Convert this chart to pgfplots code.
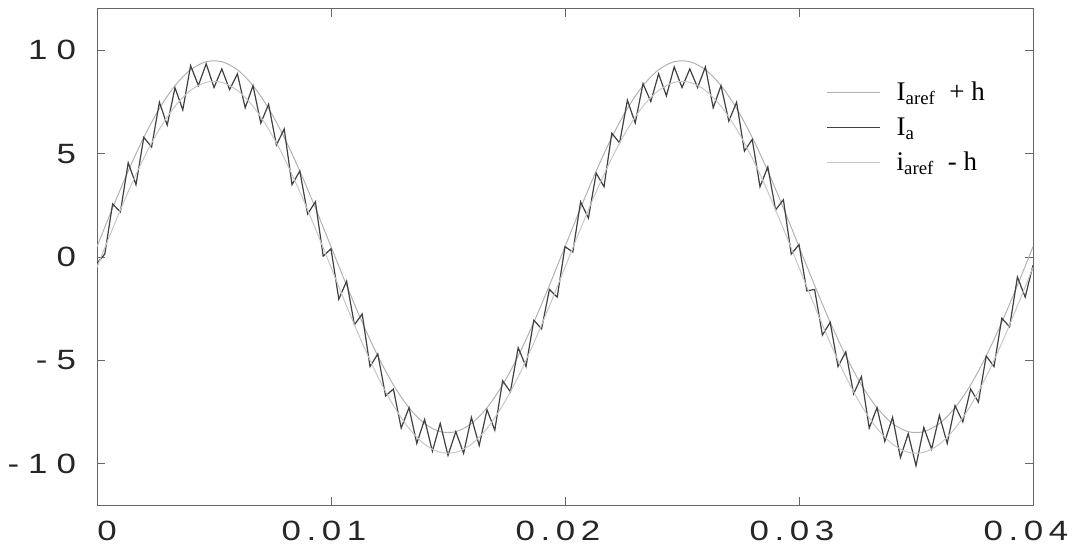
\documentclass[border=0pt]{standalone}
\usepackage{pgfplots}
\usepackage{pgfplotstable}
\pgfplotsset{compat=1.18}
\usepackage{fontspec}
\setmainfont{Liberation Serif}
\newfontfamily\arial[FakeStretch=1.25]{Liberation Sans}
\newcommand{\dsp}{\hspace{4.5bp}}
\newcommand{\xsp}{\hspace{2.8bp}}

% band limits (x in steps of 1/3000 s)
\pgfplotstableread{
k up lo
0 0.5 -0.5
2 2.371 1.371
4 4.161 3.161
6 5.790 4.790
8 7.188 6.188
10 8.294 7.294
12 9.060 8.060
14 9.451 8.451
16 9.451 8.451
18 9.060 8.060
20 8.294 7.294
22 7.188 6.188
24 5.790 4.790
26 4.161 3.161
28 2.371 1.371
30 0.5 -0.5
32 -1.371 -2.371
34 -3.161 -4.161
36 -4.790 -5.790
38 -6.188 -7.188
40 -7.294 -8.294
42 -8.060 -9.060
44 -8.451 -9.451
46 -8.451 -9.451
48 -8.060 -9.060
50 -7.294 -8.294
52 -6.188 -7.188
54 -4.790 -5.790
56 -3.161 -4.161
58 -1.371 -2.371
60 0.5 -0.5
62 2.371 1.371
64 4.161 3.161
66 5.790 4.790
68 7.188 6.188
70 8.294 7.294
72 9.060 8.060
74 9.451 8.451
76 9.451 8.451
78 9.060 8.060
80 8.294 7.294
82 7.188 6.188
84 5.790 4.790
86 4.161 3.161
88 2.371 1.371
90 0.5 -0.5
92 -1.371 -2.371
94 -3.161 -4.161
96 -4.790 -5.790
98 -6.188 -7.188
100 -7.294 -8.294
102 -8.060 -9.060
104 -8.451 -9.451
106 -8.451 -9.451
108 -8.060 -9.060
110 -7.294 -8.294
112 -6.188 -7.188
114 -4.790 -5.790
116 -3.161 -4.161
118 -1.371 -2.371
120 0.5 -0.5
}\bandtable

\pgfplotstableread{
k ia
0 -0.30
1 0.14
2 2.57
3 2.18
4 4.56
5 3.50
6 5.79
7 5.32
8 7.49
9 6.38
10 8.19
11 7.12
12 9.26
13 8.30
14 9.35
15 8.20
16 9.10
17 8.10
18 8.86
19 7.22
20 8.29
21 6.48
22 7.39
23 5.42
24 6.19
25 3.50
26 4.16
27 2.08
28 2.67
29 0.04
30 0.40
31 -2.04
32 -1.17
33 -3.28
34 -2.76
35 -5.30
36 -4.69
37 -6.72
38 -6.39
39 -8.28
40 -7.29
41 -9.02
42 -7.86
43 -9.40
44 -8.05
45 -9.60
46 -8.45
47 -9.50
48 -7.76
49 -9.12
50 -7.39
51 -8.38
52 -5.99
53 -6.52
54 -4.39
55 -5.30
56 -3.06
57 -3.48
58 -1.57
59 -1.94
60 0.50
61 0.24
62 2.67
63 1.88
64 4.06
65 3.40
66 5.99
67 5.52
68 7.59
69 6.48
70 8.39
71 7.52
72 8.86
73 7.80
74 9.20
75 8.20
76 9.10
77 8.20
78 9.20
79 7.22
80 8.29
81 6.58
82 7.49
83 5.12
84 5.69
85 3.40
86 4.36
87 2.28
88 2.77
89 0.14
90 0.60
91 -1.64
92 -1.57
93 -3.78
94 -3.16
95 -5.30
96 -4.59
97 -6.62
98 -5.79
99 -8.28
100 -7.29
101 -8.92
102 -7.76
103 -9.70
104 -8.55
105 -10.10
106 -8.25
107 -9.30
108 -7.66
109 -9.02
110 -7.19
111 -7.98
112 -6.39
113 -7.02
114 -4.79
115 -5.30
116 -2.96
117 -3.38
118 -0.97
119 -1.94
120 -0.40
}\iatable

\begin{document}
\begin{tikzpicture}
\begin{axis}[
  name=ax,
  scale only axis,
  width=468bp, height=248bp,
  xmin=0, xmax=120, ymin=-12, ymax=12,
  xtick={0,30,60,90,120},
  xticklabels={\hspace{17bp}0, 0\xsp.\xsp0\xsp1, 0\xsp.\xsp0\xsp2, 0\xsp.\xsp0\xsp3, 0\xsp.\xsp0\xsp4},
  ytick={-10,-5,0,5,10},
  yticklabels={-\dsp 1\dsp 0, -\dsp 5, 0, 5, 1\dsp 0},
  tick label style={font=\arial\fontsize{14}{16}\selectfont, black!85},
  yticklabel style={xshift=-7bp},
  xticklabel style={yshift=-4.5bp, xshift=-3.5bp},
  axis line style={black!60, line width=0.5bp},
  tick style={black!60, line width=0.4bp},
  major tick length=4bp,
  legend style={draw=none, fill=none, at={(0.779,0.862)}, anchor=north west,
    font=\fontsize{13.5}{15}\selectfont, row sep=3bp, inner sep=0pt,
    /tikz/every odd column/.append style={column sep=6bp}},
  legend cell align=left,
  legend image code/.code={\draw[#1] (0bp,0bp) -- (26.5bp,0bp);},
]
\addplot[black!30, line width=0.5bp, smooth] table[x=k, y=up] {\bandtable};
\addlegendentry{I\textsubscript{aref} \ + h}
\addplot[black!75, line width=0.6bp] table[x=k, y=ia] {\iatable};
\addlegendentry{I\textsubscript{a}}
\addplot[black!22, line width=0.5bp, smooth] table[x=k, y=lo] {\bandtable};
\addlegendentry{i\textsubscript{aref} \ - h}
\end{axis}
\pgfresetboundingbox
\path[use as bounding box] ([xshift=-48.5bp, yshift=-24.5bp]ax.south west) rectangle ([xshift=19.5bp, yshift=4.5bp]ax.north east);
\end{tikzpicture}
\end{document}
